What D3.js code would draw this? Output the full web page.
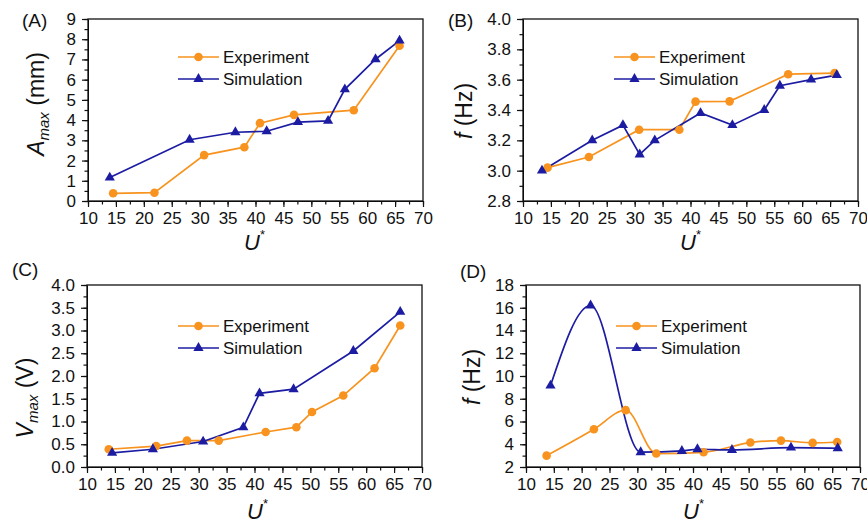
<!DOCTYPE html>
<html>
<head>
<meta charset="utf-8">
<script src="https://cdn.jsdelivr.net/npm/d3@7/dist/d3.min.js"></script>
<style>
  html, body { margin: 0; padding: 0; background: #fff; }
  svg { display: block; font-family: "Liberation Sans", Arial, sans-serif; }
</style>
</head>
<body>
<svg id="fig" width="867" height="526"></svg>
<script>
// Reduced velocity ticks shared by all four panels
const uTicks = [10, 15, 20, 25, 30, 35, 40, 45, 50, 55, 60, 65, 70];

// (A) maximum amplitude, mm  [U*, value]
const ampExperiment = [[14.5, 0.38], [21.9, 0.41], [30.8, 2.27], [38.0, 2.66], [40.8, 3.85], [46.9, 4.26], [57.6, 4.49], [65.8, 7.68]];
const ampSimulation = [[13.9, 1.16], [28.2, 3.03], [36.4, 3.40], [42.0, 3.45], [47.6, 3.90], [53.0, 3.96], [56.0, 5.52], [61.5, 7.01], [65.8, 7.93]];
const ampTicks = [0, 1, 2, 3, 4, 5, 6, 7, 8, 9];

// (B) oscillation frequency, Hz
const freqExperiment = [[14.4, 3.02], [21.8, 3.09], [30.8, 3.27], [38.0, 3.27], [40.9, 3.455], [47.0, 3.457], [57.5, 3.636], [65.8, 3.643]];
const freqSimulation = [[13.4, 3.00], [22.4, 3.20], [27.9, 3.30], [30.9, 3.107], [33.6, 3.20], [41.8, 3.38], [47.5, 3.30], [53.2, 3.40], [56.0, 3.56], [61.6, 3.60], [66.2, 3.63]];
const freqTicks = [2.8, 3.0, 3.2, 3.4, 3.6, 3.8, 4.0];

// (C) maximum voltage, V
const voltExperiment = [[13.9, 0.39], [22.4, 0.46], [27.9, 0.58], [33.6, 0.58], [42.0, 0.77], [47.5, 0.875], [50.3, 1.21], [55.9, 1.57], [61.5, 2.17], [66.1, 3.11]];
const voltSimulation = [[14.5, 0.31], [21.8, 0.39], [30.8, 0.56], [38.0, 0.87], [40.9, 1.62], [47.0, 1.71], [57.7, 2.55], [66.1, 3.41]];
const voltTicks = [0.0, 0.5, 1.0, 1.5, 2.0, 2.5, 3.0, 3.5, 4.0];

// (D) voltage frequency, Hz
const vfreqExperiment = [[13.7, 3.0], [22.2, 5.32], [27.9, 7.0], [33.4, 3.18], [41.9, 3.29], [50.3, 4.15], [55.8, 4.32], [61.5, 4.12], [65.9, 4.2]];
const vfreqSimulation = [[14.4, 9.15], [21.6, 16.2], [30.6, 3.3], [38.0, 3.41], [40.8, 3.56], [47.0, 3.5], [57.6, 3.7], [66.0, 3.65]];
const vfreqTicks = [2, 4, 6, 8, 10, 12, 14, 16, 18];

const seriesNames = ["Experiment", "Simulation"];

const ORANGE = "#f7931e";
const BLUE = "#1c1ca3";
const svg = d3.select("#fig");

const panels = [
  {
    tag: "(A)", tagX: 22, tagY: 27,
    left: 88, right: 423, top: 19, bottom: 201,
    yTicks: ampTicks, yMinorStep: 0.5, yFmt: d3.format("d"),
    title: [{t: "A", it: true}, {t: "max", it: true, sub: true}, {t: " (mm)"}],
    titleX: 44, titleY: 104,
    uX: 244, uY: 250,
    legX: 178, legY: 57,
    exp: ampExperiment, sim: ampSimulation, curve: d3.curveLinear
  },
  {
    tag: "(B)", tagX: 448, tagY: 27,
    left: 523, right: 858, top: 19, bottom: 201,
    yTicks: freqTicks, yMinorStep: 0.1, yFmt: d3.format(".1f"),
    title: [{t: "f", it: true}, {t: " (Hz)"}],
    titleX: 472, titleY: 111,
    uX: 680, uY: 250,
    legX: 614, legY: 57,
    exp: freqExperiment, sim: freqSimulation, curve: d3.curveLinear
  },
  {
    tag: "(C)", tagX: 12, tagY: 276,
    left: 87, right: 422, top: 285, bottom: 467,
    yTicks: voltTicks, yMinorStep: 0.25, yFmt: d3.format(".1f"),
    title: [{t: "V", it: true}, {t: "max", it: true, sub: true}, {t: " (V)"}],
    titleX: 33, titleY: 398,
    uX: 247, uY: 519,
    legX: 178, legY: 326,
    exp: voltExperiment, sim: voltSimulation, curve: d3.curveLinear
  },
  {
    tag: "(D)", tagX: 460, tagY: 278,
    left: 526, right: 860, top: 285, bottom: 467,
    yTicks: vfreqTicks, yMinorStep: 1, yFmt: d3.format("d"),
    title: [{t: "f", it: true}, {t: " (Hz)"}],
    titleX: 480, titleY: 377,
    uX: 683, uY: 519,
    legX: 616, legY: 326,
    exp: vfreqExperiment, sim: vfreqSimulation, curve: d3.curveMonotoneX
  }
];

function minorValues(lo, hi, step) {
  const out = [];
  const n = Math.round((hi - lo) / step);
  for (let i = 0; i <= n; i++) out.push(lo + i * step);
  return out;
}

const circle = d3.symbol(d3.symbolCircle, 58);
const triangle = d3.symbol(d3.symbolTriangle, 45);

panels.forEach(p => {
  const g = svg.append("g");
  const yMin = p.yTicks[0], yMax = p.yTicks[p.yTicks.length - 1];
  const x = d3.scaleLinear().domain([uTicks[0], uTicks[uTicks.length - 1]]).range([p.left, p.right]);
  const y = d3.scaleLinear().domain([yMin, yMax]).range([p.bottom, p.top]);

  // minor ticks
  g.append("g").attr("transform", `translate(0,${p.bottom})`)
    .call(d3.axisBottom(x).tickValues(minorValues(uTicks[0], uTicks[uTicks.length - 1], 2.5)).tickSize(3.5).tickFormat(""))
    .call(a => a.select(".domain").remove());
  g.append("g").attr("transform", `translate(${p.left},0)`)
    .call(d3.axisLeft(y).tickValues(minorValues(yMin, yMax, p.yMinorStep)).tickSize(3.5).tickFormat(""))
    .call(a => a.select(".domain").remove());

  // major ticks + labels
  const xa = g.append("g").attr("transform", `translate(0,${p.bottom})`)
    .call(d3.axisBottom(x).tickValues(uTicks).tickSize(6).tickSizeOuter(0).tickPadding(5).tickFormat(d3.format("d")));
  const ya = g.append("g").attr("transform", `translate(${p.left},0)`)
    .call(d3.axisLeft(y).tickValues(p.yTicks).tickSize(6).tickSizeOuter(0).tickPadding(6).tickFormat(p.yFmt));
  [xa, ya].forEach(a => {
    a.selectAll("text").attr("font-size", 17).attr("fill", "#111").attr("font-family", "Liberation Sans, Arial, sans-serif");
  });
  g.selectAll(".tick line").attr("stroke", "#111").attr("stroke-width", 1.2);

  // frame
  g.append("rect")
    .attr("x", p.left).attr("y", p.top)
    .attr("width", p.right - p.left).attr("height", p.bottom - p.top)
    .attr("fill", "none").attr("stroke", "#111").attr("stroke-width", 1.3);

  // series
  const line = d3.line().x(d => x(d[0])).y(d => y(d[1])).curve(p.curve);
  g.append("path").datum(p.exp).attr("d", line)
    .attr("fill", "none").attr("stroke", ORANGE).attr("stroke-width", 1.7);
  g.append("path").datum(p.sim).attr("d", line)
    .attr("fill", "none").attr("stroke", BLUE).attr("stroke-width", 1.7);
  g.selectAll(".pe").data(p.exp).join("path")
    .attr("transform", d => `translate(${x(d[0])},${y(d[1])})`)
    .attr("d", circle).attr("fill", ORANGE);
  g.selectAll(".ps").data(p.sim).join("path")
    .attr("transform", d => `translate(${x(d[0])},${y(d[1])})`)
    .attr("d", triangle).attr("fill", BLUE);

  // legend
  [ORANGE, BLUE].forEach((c, i) => {
    const ly = p.legY + i * 22;
    g.append("line").attr("x1", p.legX).attr("x2", p.legX + 41).attr("y1", ly).attr("y2", ly)
      .attr("stroke", c).attr("stroke-width", 1.7);
    g.append("path").attr("transform", `translate(${p.legX + 20.5},${ly})`)
      .attr("d", i === 0 ? circle : triangle).attr("fill", c);
    g.append("text").attr("x", p.legX + 45).attr("y", ly + 6)
      .attr("font-size", 17).attr("fill", "#111").text(seriesNames[i]);
  });

  // panel tag
  g.append("text").attr("x", p.tagX).attr("y", p.tagY)
    .attr("font-size", 19).attr("fill", "#111").text(p.tag);

  // y-axis title
  const yt = g.append("text")
    .attr("transform", `translate(${p.titleX},${p.titleY}) rotate(-90)`)
    .attr("text-anchor", "middle").attr("font-size", 23).attr("fill", "#111");
  let shifted = false;
  p.title.forEach(s => {
    const ts = yt.append("tspan").text(s.t);
    if (s.it) ts.attr("font-style", "italic");
    if (s.sub) { ts.attr("font-size", 15).attr("dy", 5); shifted = true; }
    else if (shifted) { ts.attr("dy", -5); shifted = false; }
  });

  // x-axis title U*
  const xt = g.append("text").attr("x", p.uX).attr("y", p.uY)
    .attr("font-size", 22).attr("fill", "#111");
  xt.append("tspan").attr("font-style", "italic").text("U");
  xt.append("tspan").attr("font-size", 13).attr("dy", -11).text("*");
});
</script>
</body>
</html>
